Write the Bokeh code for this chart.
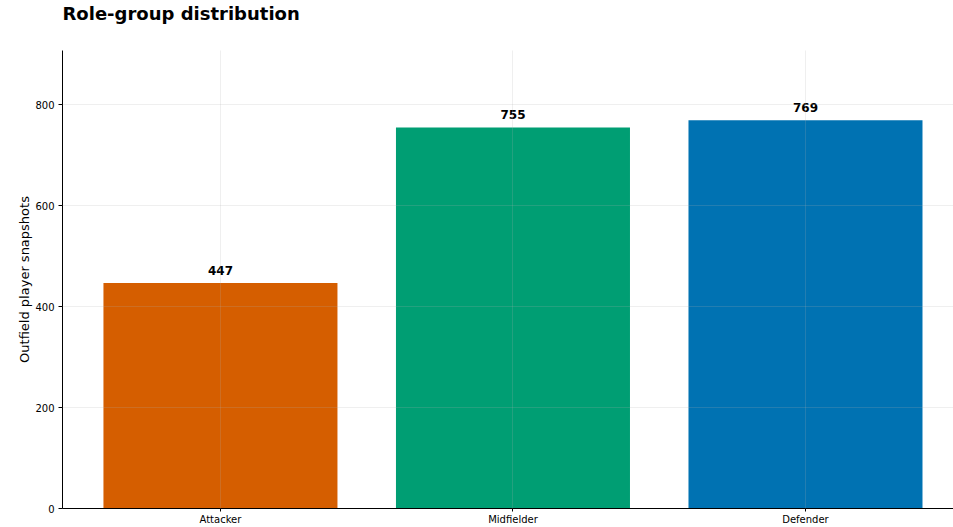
from bokeh.plotting import figure
from bokeh.models import Range1d, FixedTicker, ColumnDataSource, Title
from bokeh.core.properties import value
from bokeh.embed import file_html
from bokeh.resources import INLINE

categories = ["Attacker", "Midfielder", "Defender"]
counts = [447, 755, 769]
colors = ["#D55E00", "#009E73", "#0072B2"]
y_ticks = [0, 200, 400, 600, 800]
title_text = "Role-group distribution"

xs = list(range(len(categories)))
src = ColumnDataSource(dict(x=xs, top=counts, color=colors,
                            label=[str(c) for c in counts]))

FONT = "DejaVu Sans"

p = figure(width=953, height=527, output_backend="svg", toolbar_location=None,
           x_range=Range1d(-0.54, 2.506), y_range=Range1d(0, max(counts) * 1.18),
           min_border_left=62, min_border_right=0, min_border_top=50,
           min_border_bottom=0)

p.title.text = title_text
p.title.text_font = FONT
p.title.text_font_size = "18px"
p.title.text_font_style = "bold"
p.title.text_color = "black"
p.title.align = "left"
p.title.vertical_align = "top"
p.title.standoff = 3
p.title.offset = 0

# invisible spacer between the title and the plot frame
p.add_layout(Title(text="\u00a0", text_font_size="2px", standoff=19,
                   text_color="white"), "above")

p.vbar(x="x", top="top", width=0.8, bottom=0, color="color", source=src,
       line_color=None)
p.text(x="x", y="top", text="label", source=src, text_align="center",
       text_baseline="bottom", y_offset=-8, text_font=value(FONT),
       text_font_size="12px", text_font_style="bold", text_color="black")

p.outline_line_color = None

p.xaxis.ticker = FixedTicker(ticks=xs)
p.xaxis.major_label_overrides = {i: c for i, c in enumerate(categories)}
p.yaxis.ticker = FixedTicker(ticks=y_ticks)
p.yaxis.axis_label = "Outfield player snapshots"

for ax in (p.xaxis[0], p.yaxis[0]):
    ax.axis_line_color = "black"
    ax.axis_line_width = 1
    ax.major_tick_line_color = "black"
    ax.major_tick_out = 4
    ax.major_tick_in = 0
    ax.minor_tick_line_color = None
    ax.major_label_text_font = FONT
    ax.major_label_text_font_size = "10px"
    ax.major_label_text_color = "black"
    ax.axis_label_text_font = FONT
    ax.axis_label_text_font_size = "13px"
    ax.axis_label_text_font_style = "normal"
    ax.axis_label_text_color = "black"
    ax.major_label_standoff = 4

p.xaxis.major_tick_out = 3
p.xaxis.major_label_standoff = 2
p.yaxis.axis_label_standoff = 0

for g in (p.xgrid[0], p.ygrid[0]):
    g.grid_line_color = "#b0b0b0"
    g.grid_line_alpha = 0.25
    g.grid_line_width = 0.8
    g.level = "overlay"

open("out.html", "w").write(file_html(p, INLINE))
